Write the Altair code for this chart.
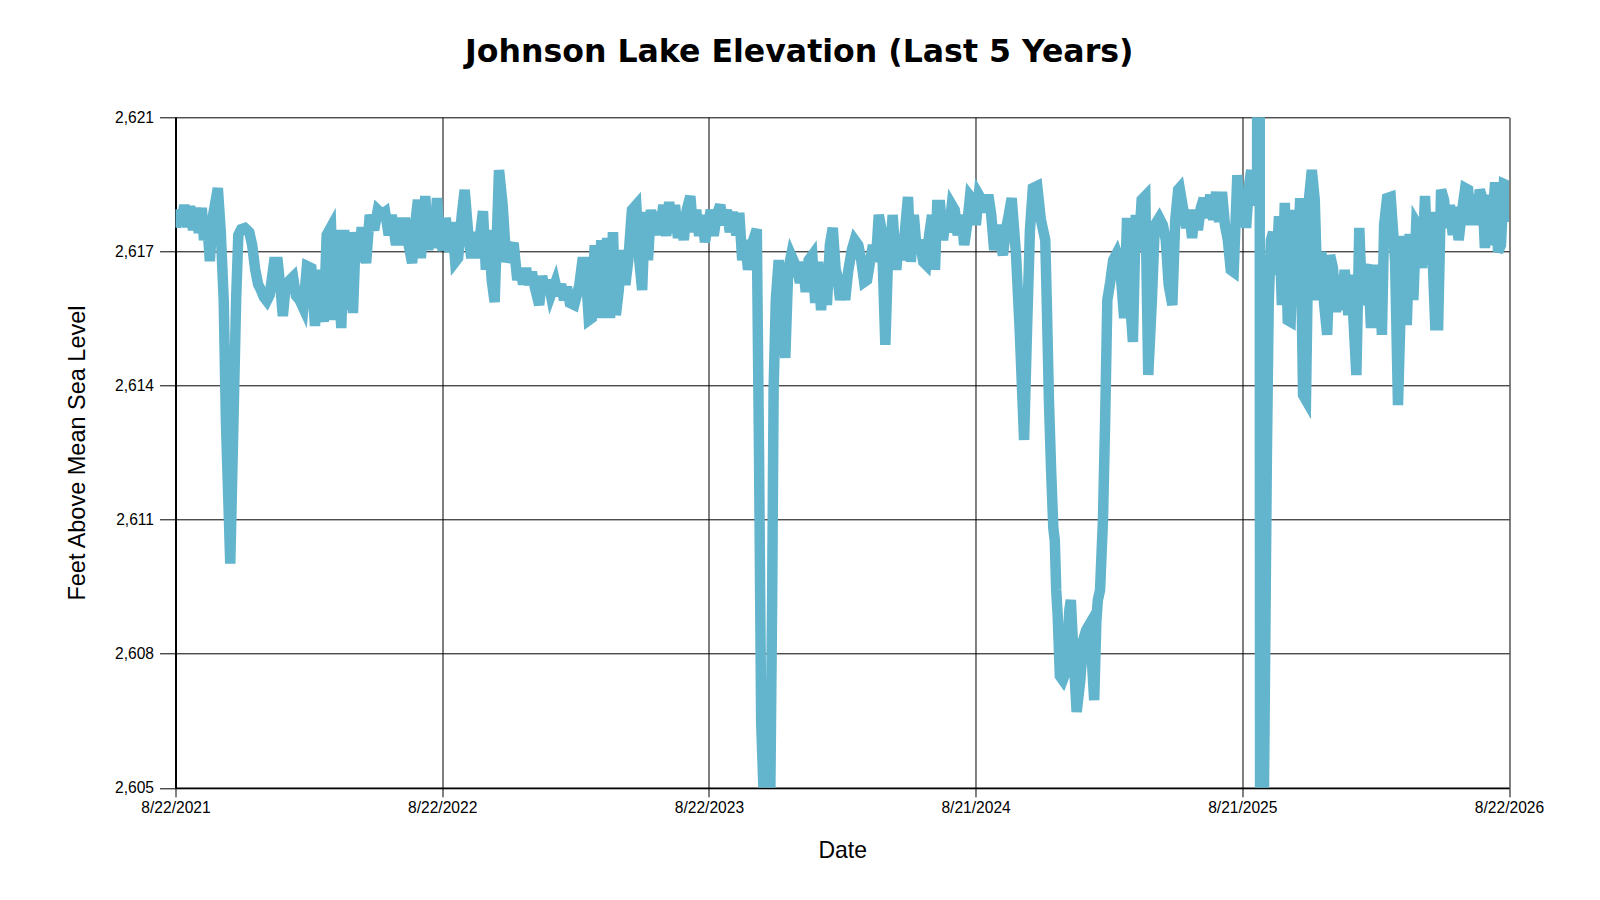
import altair as alt
import pandas as pd

START = "2021-08-22"

# Day offsets from START and lake elevation (ft above MSL)
days_2021 = [1, 3, 8, 12, 16, 20, 24, 28, 32, 36, 39, 43, 47, 51, 58, 62, 66, 69, 75, 80,
             83, 86, 90, 95, 101, 105, 109, 113, 117, 121, 125, 129, 135, 140, 144, 147, 151, 157, 161, 165,
             170, 175, 180, 186, 191, 195, 199, 203, 207, 213, 217, 221, 227, 231, 235, 239, 243, 247, 251, 255,
             261, 266, 272, 277, 283]
elev_2021 = [2618.36, 2618.79, 2618.43, 2618.91, 2618.38, 2618.88, 2618.31, 2618.84, 2618.24, 2618.84,
             2618.07, 2618.60, 2617.57, 2618.62, 2619.31, 2618.26, 2616.64, 2613.78, 2610.35, 2614.25,
             2616.64, 2618.19, 2618.33, 2618.36, 2618.26, 2617.95, 2617.38, 2617.02, 2616.88, 2616.71,
             2616.62, 2616.76, 2617.55, 2617.55, 2616.88, 2616.26, 2617.00, 2617.12, 2617.19, 2616.74,
             2616.64, 2616.45, 2617.45, 2617.40, 2616.02, 2617.36, 2616.64, 2616.12, 2618.19, 2618.38,
             2616.16, 2618.31, 2615.97, 2618.31, 2616.40, 2618.26, 2616.33, 2618.26, 2617.55, 2618.38,
             2617.52, 2618.67, 2618.31, 2618.79, 2618.69]

days_2022 = [287, 292, 296, 302, 306, 310, 314, 318, 324, 328,
             332, 336, 342, 346, 350, 354, 358, 362, 366, 370,
             375, 379, 383, 387, 392, 396, 401, 405, 409, 413,
             417, 421, 425, 429, 433, 437, 443, 448, 453, 458,
             463, 468, 472, 476, 480, 484, 488, 492, 498, 502,
             506, 510, 514, 520, 524, 528, 532, 536, 540, 546,
             553, 557, 561, 566, 570, 574, 579, 583, 587, 591]
elev_2022 = [2618.74, 2618.19, 2618.67, 2617.95, 2618.60, 2617.95, 2618.60, 2618.07, 2617.52, 2618.43,
             2619.03, 2617.64, 2619.12, 2617.83, 2618.79, 2617.88, 2619.07, 2618.07, 2617.83, 2618.60,
             2617.79, 2618.50, 2617.55, 2617.64, 2618.67, 2619.27, 2618.19, 2617.64, 2618.26, 2617.64,
             2618.17, 2618.76, 2617.36, 2618.31, 2617.12, 2616.59, 2619.74, 2618.91, 2617.55, 2617.79,
             2618.00, 2617.12, 2617.36, 2617.02, 2617.40, 2617.00, 2617.31, 2616.95, 2616.52, 2617.21,
             2616.88, 2617.12, 2616.76, 2617.05, 2616.74, 2617.02, 2616.64, 2616.95, 2616.57, 2616.52,
             2617.00, 2617.55, 2617.55, 2616.16, 2616.21, 2617.95, 2616.21, 2618.07, 2616.21, 2618.12]

days_2023 = [595, 599, 603, 607, 611, 616, 620, 625, 631, 635,
             639, 643, 647, 651, 655, 659, 663, 668, 672, 676,
             680, 684, 688, 692, 696, 700, 705, 709, 713, 717,
             721, 725, 729, 733, 737, 741, 746, 750, 755, 759,
             763, 768, 772, 776, 780, 784, 789, 796, 799, 802,
             807, 814, 817, 819, 822, 826, 832, 835, 839, 843,
             847, 851, 855, 859, 863, 867, 872, 876, 880, 884,
             888, 892, 896, 900, 904]
elev_2023 = [2616.21, 2618.26, 2616.28, 2616.88, 2617.83, 2617.00, 2617.59, 2618.79, 2618.91, 2617.59,
             2616.88, 2618.74, 2617.59, 2618.79, 2618.26, 2618.74, 2618.19, 2618.91, 2618.17, 2618.98,
             2618.24, 2618.91, 2618.12, 2618.74, 2618.07, 2618.79, 2619.12, 2618.26, 2618.79, 2618.17,
             2618.67, 2618.02, 2618.43, 2618.79, 2618.17, 2618.67, 2618.91, 2618.43, 2618.79, 2618.26,
             2618.74, 2618.19, 2618.72, 2617.59, 2618.07, 2617.36, 2617.95, 2618.33, 2613.06, 2606.55,
             2604.00, 2604.00, 2609.48, 2614.49, 2616.64, 2617.59, 2615.92, 2615.26, 2617.36, 2617.71,
             2617.55, 2617.40, 2617.05, 2617.55, 2616.83, 2617.59, 2617.71, 2616.57, 2617.55, 2616.40,
             2617.36, 2616.52, 2617.95, 2618.36, 2617.36]

days_2024 = [906, 910, 914, 917, 921, 926, 930, 935, 939, 943,
             947, 951, 955, 959, 963, 967, 972, 976, 978, 982,
             987, 991, 995, 999, 1003, 1007, 1011, 1015, 1019, 1024,
             1028, 1032, 1036, 1040, 1043, 1047, 1051, 1055, 1059, 1063,
             1067, 1071, 1076, 1080, 1084, 1088, 1092, 1096, 1100, 1104,
             1108, 1113, 1117, 1121, 1125, 1129, 1133, 1137, 1141, 1145,
             1151, 1156, 1162, 1166, 1170, 1174, 1180, 1185, 1191, 1193,
             1196, 1199, 1202, 1204, 1206, 1208, 1211, 1215, 1219, 1224,
             1226, 1230, 1234, 1239, 1243, 1247, 1251, 1254, 1258, 1261,
             1263, 1266, 1270, 1273, 1276, 1280, 1284, 1289, 1293, 1296,
             1299, 1303, 1307, 1311, 1315, 1319, 1323, 1328, 1332, 1337,
             1341, 1347, 1352, 1356, 1360, 1365, 1369, 1373, 1375, 1380,
             1384, 1388, 1392, 1396, 1400, 1404, 1408, 1412, 1417, 1421,
             1425, 1429, 1433, 1437, 1441, 1445, 1449, 1454, 1458, 1462,
             1466, 1470, 1473, 1475, 1481, 1483.5, 1486.5, 1488, 1494.5, 1497, 1500]
elev_2024 = [2617.24, 2616.64, 2617.12, 2616.64, 2617.31, 2617.83, 2618.07, 2617.95, 2617.59, 2617.07,
             2617.12, 2617.55, 2617.95, 2617.55, 2618.67, 2618.31, 2615.57, 2617.83, 2617.48, 2618.67,
             2617.36, 2618.19, 2617.59, 2618.31, 2619.10, 2617.55, 2618.67, 2617.83, 2618.07, 2617.55,
             2617.48, 2618.19, 2618.67, 2617.36, 2618.91, 2618.91, 2618.07, 2618.67, 2618.26, 2618.91,
             2618.79, 2618.19, 2618.67, 2617.95, 2618.43, 2619.12, 2619.03, 2618.43, 2619.15, 2619.03,
             2618.74, 2619.15, 2618.67, 2617.83, 2618.43, 2618.07, 2617.71, 2618.31, 2618.67, 2619.07,
             2617.71, 2615.92, 2613.30, 2615.92, 2618.31, 2619.31, 2619.36, 2618.55, 2618.07, 2616.64,
             2614.25, 2612.58, 2611.20, 2610.91, 2609.72, 2609.12, 2607.67, 2607.57, 2607.76, 2609.24,
             2609.48, 2608.05, 2606.81, 2607.57, 2608.53, 2608.76, 2608.88, 2608.29, 2607.09, 2609.00,
             2609.48, 2609.72, 2611.39, 2613.78, 2616.64, 2617.07, 2617.59, 2617.76, 2617.55, 2616.88,
             2616.21, 2618.60, 2616.64, 2615.64, 2618.67, 2617.83, 2619.03, 2619.12, 2614.85, 2616.64,
             2618.43, 2618.60, 2618.43, 2618.07, 2617.00, 2616.52, 2618.55, 2619.27, 2619.31, 2618.79,
             2618.36, 2618.79, 2618.12, 2618.79, 2618.31, 2618.84, 2619.07, 2618.60, 2619.15, 2618.55,
             2619.22, 2618.50, 2619.22, 2618.43, 2618.07, 2617.36, 2617.31, 2619.62, 2618.43, 2619.27,
             2618.36, 2619.38, 2619.74, 2618.91, 2619.30, 2660.00, 2560.00, 2600.00, 2613.00, 2616.60, 2618.07]

days_2025 = [1503, 1507, 1511, 1515, 1519, 1523, 1527, 1532, 1536, 1540,
             1544, 1548, 1552, 1556, 1560, 1564, 1569, 1573, 1577, 1581,
             1585, 1589, 1593, 1597, 1601, 1606, 1610, 1612, 1617, 1621,
             1625, 1629, 1633, 1637, 1641, 1645, 1649, 1652, 1655, 1659,
             1664, 1670, 1674, 1678, 1682, 1686, 1690, 1695, 1699, 1703,
             1707, 1711, 1715, 1719, 1725, 1729, 1733, 1737, 1741, 1745,
             1749, 1753, 1757, 1762, 1766, 1770, 1774, 1778, 1782, 1786,
             1790, 1793, 1797, 1801, 1807, 1811, 1815, 1819, 1823, 1826]
elev_2025 = [2618.26, 2617.24, 2618.64, 2616.52, 2618.96, 2616.16, 2616.12, 2618.79, 2617.00, 2619.07,
             2614.37, 2614.25, 2619.03, 2619.74, 2619.03, 2616.64, 2617.79, 2616.52, 2615.81, 2617.71,
             2617.40, 2616.35, 2617.24, 2616.40, 2617.36, 2616.28, 2617.24, 2616.52, 2614.85, 2618.36,
             2616.52, 2617.31, 2617.48, 2615.97, 2617.48, 2616.16, 2617.00, 2615.81, 2618.43, 2619.07,
             2619.10, 2617.59, 2614.13, 2616.64, 2618.17, 2616.04, 2618.22, 2616.64, 2618.48, 2618.36,
             2617.40, 2619.12, 2617.48, 2618.74, 2616.04, 2616.04, 2619.27, 2619.03, 2618.36, 2618.91,
             2618.19, 2618.86, 2618.07, 2618.79, 2619.31, 2619.27, 2618.43, 2619.15, 2618.43, 2619.27,
             2619.03, 2617.88, 2619.15, 2617.95, 2619.45, 2617.79, 2617.95, 2619.41, 2619.38, 2618.50]

y_ticks = [2605, 2608.2, 2611.4, 2614.6, 2617.8, 2621]
x_domain = [alt.DateTime(year=2021, month=8, date=22), alt.DateTime(year=2026, month=8, date=22)]
x_ticks = [
    alt.DateTime(year=2021, month=8, date=22),
    alt.DateTime(year=2022, month=8, date=22, hours=4, minutes=48),
    alt.DateTime(year=2023, month=8, date=22, hours=9, minutes=36),
    alt.DateTime(year=2024, month=8, date=21, hours=14, minutes=24),
    alt.DateTime(year=2025, month=8, date=21, hours=19, minutes=12),
    alt.DateTime(year=2026, month=8, date=22),
]

days = days_2021 + days_2022 + days_2023 + days_2024 + days_2025
elev = elev_2021 + elev_2022 + elev_2023 + elev_2024 + elev_2025
dates = (pd.Timestamp(START) + pd.to_timedelta(days, unit="D")).strftime("%Y-%m-%dT%H:%M:%S")
df = pd.DataFrame({"date": list(dates), "elev": elev})

PLOT_W = 1333.5
PLOT_H = 670.5

chart = alt.Chart(df).mark_line(
    color="#63b4cd", strokeWidth=10.5, clip=True
).encode(
    x=alt.X(
        "date:T",
        scale=alt.Scale(domain=x_domain, nice=False),
        axis=alt.Axis(
            values=x_ticks, format="%-m/%-d/%Y", title="Date",
            tickSize=9, labelPadding=4, labelFlush=False, labelOverlap=False,
            titleX=PLOT_W / 2, titleY=70, titleAlign="center", titleBaseline="alphabetic",
            titleFontSize=23,
        ),
    ),
    y=alt.Y(
        "elev:Q",
        scale=alt.Scale(domain=[2605, 2621], nice=False, zero=False),
        axis=alt.Axis(
            values=y_ticks, labelExpr="format(floor(datum.value), ',')",
            title="Feet Above Mean Sea Level",
            tickSize=16, labelPadding=6, labelOverlap=False,
            titleX=-91, titleY=PLOT_H / 2, titleAngle=270,
            titleAlign="center", titleBaseline="alphabetic",
            titleFontSize=23.5, domainWidth=2,
        ),
    ),
).properties(
    width=PLOT_W,
    height=PLOT_H,
    autosize=alt.AutoSizeParams(type="none"),
    padding={"left": 167.5, "top": 109.3, "right": 75, "bottom": 100},
    background="white",
    title=alt.TitleParams(
        "Johnson Lake Elevation (Last 5 Years)",
        font="DejaVu Sans", fontSize=31.6, fontWeight="bold", color="#000000",
        anchor="middle", frame="group", dx=-43, offset=17, baseline="alphabetic",
    ),
).configure_axis(
    labelFont="Liberation Sans", labelFontSize=15.6, labelColor="#000000",
    titleFont="Liberation Sans", titleFontSize=23, titleFontWeight="normal", titleColor="#000000",
    domainColor="#000000", domainWidth=1.5,
    tickColor="#000000", tickWidth=1,
    grid=True, gridColor="#000000", gridOpacity=1, gridWidth=1,
).configure_view(
    strokeWidth=0
)

chart.save("out.html", embed_options={"renderer": "svg", "actions": False})
